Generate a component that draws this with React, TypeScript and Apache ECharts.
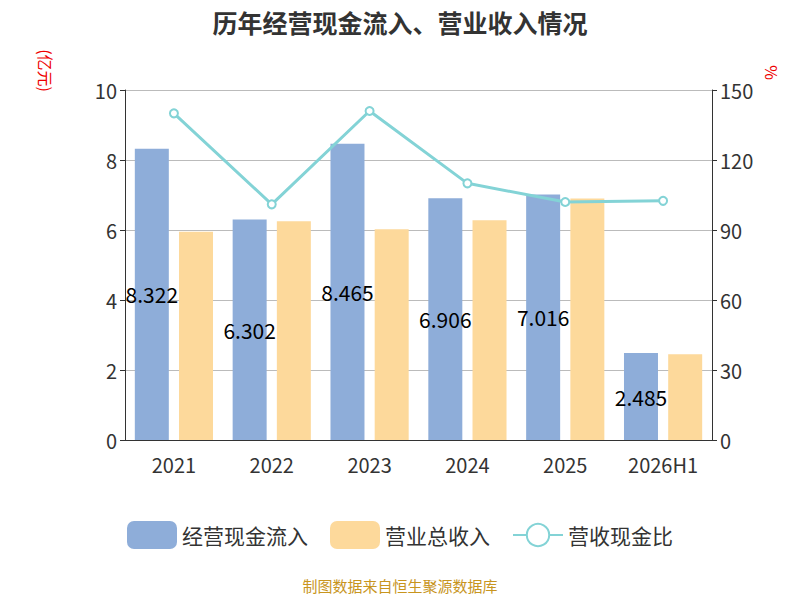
import { useEffect, useRef } from 'react';
import * as echarts from 'echarts';

const years = ['2021', '2022', '2023', '2024', '2025', '2026H1'];
const cashIn = [8.322, 6.302, 8.465, 6.906, 7.016, 2.485];
const revenue = [5.95, 6.25, 6.02, 6.28, 6.9, 2.45];
const ratio = [140, 101, 141, 110, 102, 102.5];

export default function App() {
  const chartRef = useRef<HTMLDivElement>(null);

  useEffect(() => {
    if (!chartRef.current) return;
    document.body.style.margin = '0';
    const chart = echarts.init(chartRef.current, undefined, { renderer: 'svg' });
    const font = '"Noto Sans CJK SC", "Noto Sans", sans-serif';

    chart.setOption({
      animation: false,
      textStyle: { fontFamily: font },
      title: {
        text: '历年经营现金流入、营业收入情况',
        left: 'center',
        top: 4,
        textStyle: { fontSize: 25, fontWeight: 'bold', color: '#333' },
      },
      grid: { left: 125, right: 88, top: 90, bottom: 160 },
      legend: {
        top: 516,
        left: 'center',
        itemWidth: 50,
        itemHeight: 28,
        itemGap: 22,
        textStyle: { fontSize: 21, color: '#333' },
        data: ['经营现金流入', '营业总收入', '营收现金比'],
      },
      graphic: [
        { type: 'text', x: 54, y: 92, rotation: -Math.PI / 2, style: { text: '(亿元)', fill: '#e00', fontSize: 16, fontFamily: font, align: 'right' } },
        { type: 'text', x: 780, y: 80, rotation: -Math.PI / 2, style: { text: '%', fill: '#e00', fontSize: 16, fontFamily: font, align: 'right' } },
        { type: 'text', left: 'center', top: 578, style: { text: '制图数据来自恒生聚源数据库', fill: '#c8951e', fontSize: 15, fontFamily: font } },
      ],
      xAxis: {
        type: 'category',
        data: years,
        axisLine: { lineStyle: { color: '#333' } },
        axisTick: { lineStyle: { color: '#333' }, length: 6 },
        axisLabel: { fontSize: 20, color: '#333', margin: 14 },
      },
      yAxis: [
        {
          type: 'value', min: 0, max: 10, interval: 2,
          axisLine: { show: true, lineStyle: { color: '#333' } },
          axisTick: { show: true },
          axisLabel: { fontSize: 20, color: '#333' },
          splitLine: { lineStyle: { color: '#bbb' } },
        },
        {
          type: 'value', min: 0, max: 150, interval: 30,
          axisLine: { show: true, lineStyle: { color: '#333' } },
          axisTick: { show: true },
          axisLabel: { fontSize: 20, color: '#333' },
          splitLine: { show: false },
        },
      ],
      series: [
        {
          name: '经营现金流入', type: 'bar', data: cashIn, barWidth: 34, barGap: '30%',
          itemStyle: { color: '#8eadd9' },
          label: { show: true, position: 'inside', color: '#000', fontSize: 21 },
        },
        {
          name: '营业总收入', type: 'bar', data: revenue, barWidth: 34,
          itemStyle: { color: '#fdd99b' },
        },
        {
          name: '营收现金比', type: 'line', yAxisIndex: 1, data: ratio,
          symbol: 'emptyCircle', symbolSize: 8,
          lineStyle: { color: '#83d3d6', width: 3 },
          itemStyle: { color: '#83d3d6', borderWidth: 2 },
        },
      ],
    });

    return () => chart.dispose();
  }, []);

  return <div ref={chartRef} style={{ width: 800, height: 600 }} />;
}
